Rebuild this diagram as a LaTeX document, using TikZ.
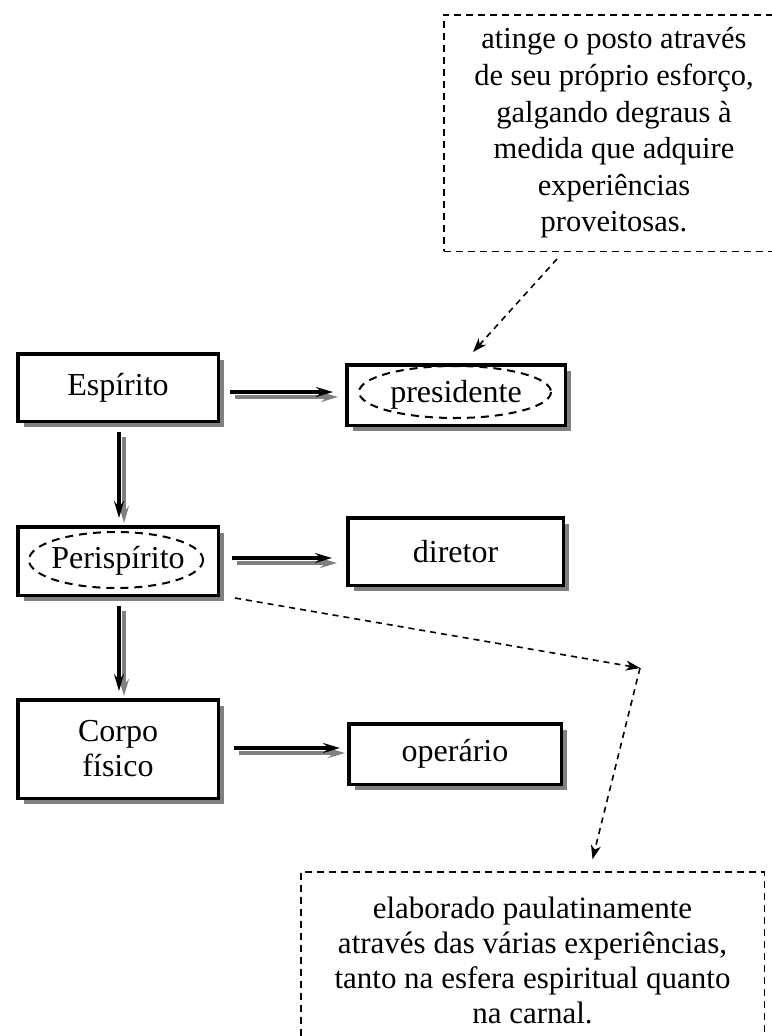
\documentclass[tikz,border=0pt]{standalone}
\usepackage{fontspec}
\setmainfont{Liberation Serif}
\usetikzlibrary{arrows.meta,shadows,calc}
\newcommand\dblarr[2]{%
  \draw[grayarrow] ($#1+(5,5)$) -- ($#2+(5,5)$);
  \draw[blackarrow] #1 -- #2;}
\begin{document}
\begin{tikzpicture}[x=1pt,y=-1pt,
  txt/.style={font=\fontsize{32}{35}\selectfont},
  mainbox/.style={txt, draw=black, line width=3.5pt, fill=white, inner sep=0pt, align=center,
    drop shadow={shadow xshift=6pt, shadow yshift=-6pt, fill=black!50, opacity=1}},
  notebox/.style={draw=black, line width=1.5pt, dash pattern=on 7pt off 5pt, align=center, inner sep=0pt},
  blackarrow/.style={draw=black, line width=3.5pt, -{Stealth[length=17pt,width=10pt,inset=6pt]}},
  grayarrow/.style={draw=black!50, line width=3.5pt, -{Stealth[length=17pt,width=10pt,inset=6pt]}},
  dashell/.style={draw=black, line width=2pt, dash pattern=on 8pt off 6pt},
  dasharrow/.style={draw=black, line width=1.6pt, dash pattern=on 6pt off 5pt, -{Stealth[length=14pt,width=10pt,inset=4pt]}}
]
\useasboundingbox (0,0) rectangle (771,1036);

% main boxes
\node[mainbox, minimum width=200.5pt, minimum height=67.5pt] (esp) at (118,387.5) {Esp\'irito};
\node[mainbox, minimum width=200.5pt, minimum height=68.5pt] (peri) at (118,561) {Perisp\'irito};
\node[mainbox, minimum width=200.5pt, minimum height=98.5pt] (corpo) at (118,749) {Corpo\\f\'isico};
\node[mainbox, minimum width=218.5pt, minimum height=60.5pt] (pres) at (456,395) {presidente};
\node[mainbox, minimum width=215.5pt, minimum height=67.5pt] (dir) at (455.5,551.5) {diretor};
\node[mainbox, minimum width=212.5pt, minimum height=60.5pt] (oper) at (455,754) {oper\'ario};

% dashed ellipses
\draw[dashell] ($(pres.center)+(-1,-3)$) ellipse [x radius=96, y radius=26];
\draw[dashell] ($(peri.center)+(-2,-1)$) ellipse [x radius=87, y radius=28];

% note boxes
\node[notebox, minimum width=340.5pt, minimum height=236.5pt, font=\fontsize{30.5}{36.6}\selectfont] (note1) at (614,133)
  {atinge o posto atrav\'es\\de seu pr\'oprio esfor\c{c}o,\\galgando degraus \`a\\medida que adquire\\experi\^encias\\proveitosas.};
\node[notebox, minimum width=463.5pt, minimum height=176pt, font=\fontsize{31}{35}\selectfont] (note2) at (532.5,960)
  {elaborado paulatinamente\\atrav\'es das v\'arias experi\^encias,\\tanto na esfera espiritual quanto\\na carnal.};

% double (shadowed) arrows
\dblarr{($(esp.east)+(10,4.5)$)}{($(esp.east -| pres.west)+(-12,4.5)$)}
\dblarr{($(peri.east)+(12,-3)$)}{($(peri.east -| dir.west)+(-14,-3)$)}
\dblarr{($(corpo.east)+(14,-1)$)}{($(corpo.east -| oper.west)+(-7,-1)$)}
\dblarr{($(esp.south)+(1,9)$)}{($(esp.south |- peri.north)+(1,-7)$)}
\dblarr{($(peri.south)+(1,9)$)}{($(peri.south |- corpo.north)+(1,-7)$)}

% dashed connectors
\coordinate (bend) at (640,668);
\draw[dasharrow] ($(note1.south west)+(114,7)$) -- ($(pres.north)+(17,-11)$);
\draw[dasharrow] ($(peri.south east)+(15,1)$) -- (bend);
\draw[dasharrow] (bend) -- ($(note2.north)+(60,-12)$);
\end{tikzpicture}
\end{document}
